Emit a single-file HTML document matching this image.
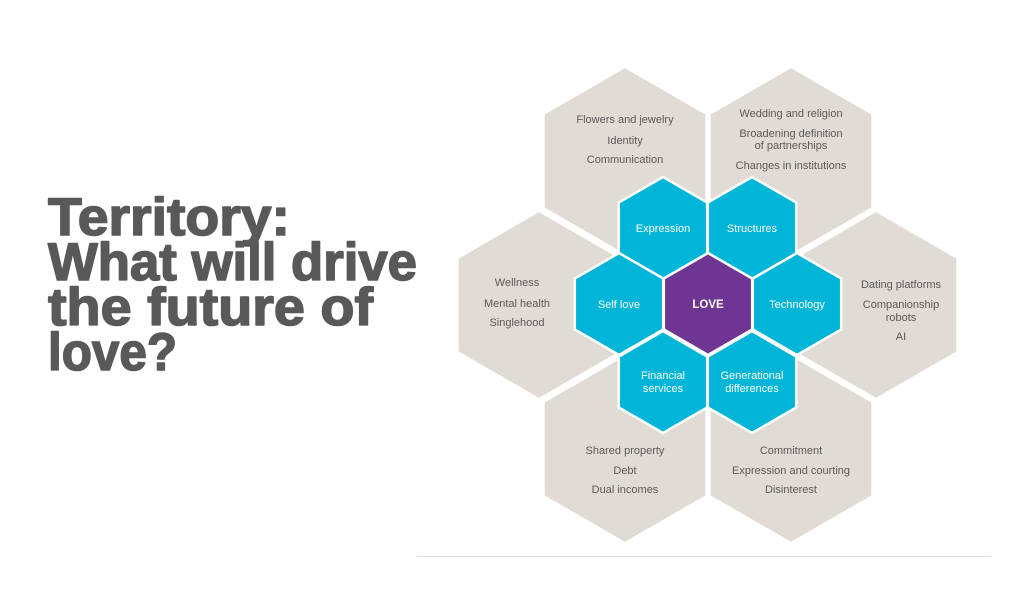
<!DOCTYPE html>
<html><head><meta charset="utf-8"><style>
html,body{margin:0;padding:0;background:#fff;width:1024px;height:596px;overflow:hidden}
svg{display:block}
.t{font-family:"Liberation Sans",Arial,sans-serif;font-size:11px;fill:#5a5a5a;text-anchor:middle}
.w{font-family:"Liberation Sans",Arial,sans-serif;font-size:11px;fill:#fff;text-anchor:middle}
.h{font-family:"Liberation Sans",Arial,sans-serif;font-weight:bold;font-size:53px;fill:#595959;stroke:#595959;stroke-width:1.6;stroke-linejoin:round}
</style></head><body>
<svg width="1024" height="596" viewBox="0 0 1024 596">
<defs>
<polygon id="B" points="0,-94.5 81.8,-47.25 81.8,47.25 0,94.5 -81.8,47.25 -81.8,-47.25"/>
<polygon id="S" points="0,-51 44.2,-25.5 44.2,25.5 0,51 -44.2,25.5 -44.2,-25.5"/>
</defs>
<g fill="#e0dbd4" stroke="#fff" stroke-width="3">
<use href="#B" x="625" y="161"/>
<use href="#B" x="791" y="161"/>
<use href="#B" x="539" y="305"/>
<use href="#B" x="876" y="305"/>
<use href="#B" x="625" y="449"/>
<use href="#B" x="791" y="449"/>
</g>
<g fill="#00b5d8" stroke="#fff" stroke-width="2.5">
<use href="#S" x="663" y="228"/>
<use href="#S" x="752" y="228"/>
<use href="#S" x="619" y="304"/>
<use href="#S" x="797" y="304"/>
<use href="#S" x="663" y="382"/>
<use href="#S" x="752" y="382"/>
</g>
<use href="#S" x="708" y="304" fill="#6e3692" stroke="#fff" stroke-width="2.5"/>

<text class="t" x="625" y="123">Flowers and jewelry</text>
<text class="t" x="625" y="144">Identity</text>
<text class="t" x="625" y="163">Communication</text>

<text class="t" x="791" y="117">Wedding and religion</text>
<text class="t" x="791" y="137">Broadening definition</text>
<text class="t" x="791" y="149">of partnerships</text>
<text class="t" x="791" y="169">Changes in institutions</text>

<text class="t" x="517" y="286">Wellness</text>
<text class="t" x="517" y="307">Mental health</text>
<text class="t" x="517" y="326">Singlehood</text>

<text class="t" x="901" y="288">Dating platforms</text>
<text class="t" x="901" y="308">Companionship</text>
<text class="t" x="901" y="321">robots</text>
<text class="t" x="901" y="340">AI</text>

<text class="t" x="625" y="454">Shared property</text>
<text class="t" x="625" y="474">Debt</text>
<text class="t" x="625" y="493">Dual incomes</text>

<text class="t" x="791" y="454">Commitment</text>
<text class="t" x="791" y="474">Expression and courting</text>
<text class="t" x="791" y="493">Disinterest</text>

<text class="w" x="663" y="232">Expression</text>
<text class="w" x="752" y="232">Structures</text>
<text class="w" x="619" y="308">Self love</text>
<text class="w" x="797" y="308">Technology</text>
<text class="w" x="663" y="379">Financial</text>
<text class="w" x="663" y="392">services</text>
<text class="w" x="752" y="379">Generational</text>
<text class="w" x="752" y="392">differences</text>
<text x="708" y="308" style="font-family:'Liberation Sans',Arial,sans-serif;font-weight:bold;font-size:11.5px;fill:#fff;text-anchor:middle">LOVE</text>

<text class="h" x="48" y="235" textLength="242" lengthAdjust="spacingAndGlyphs">Territory:</text>
<text class="h" x="48" y="280" textLength="369" lengthAdjust="spacingAndGlyphs">What will drive</text>
<text class="h" x="48" y="325" textLength="325" lengthAdjust="spacingAndGlyphs">the future of</text>
<text class="h" x="48" y="370" textLength="129" lengthAdjust="spacingAndGlyphs">love?</text>

<line x1="417" y1="556.5" x2="991" y2="556.5" stroke="#dedede" stroke-width="1"/>
</svg>
</body></html>
